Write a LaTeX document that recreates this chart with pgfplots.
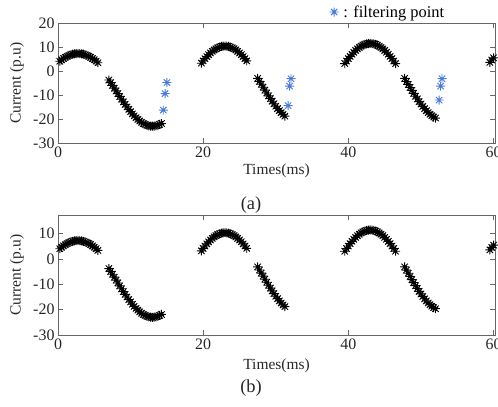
\documentclass[border=0pt]{standalone}
\usepackage{fontspec}
\setmainfont{Liberation Serif}
\usepackage{pgfplots}
\pgfplotsset{compat=1.18}
\usepackage{pgfplotstable}

\definecolor{filtblue}{HTML}{4B7BD9}
\definecolor{axgray}{HTML}{666666}

% MATLAB-like 8-spoke asterisk
\pgfdeclareplotmark{mstar}{%
  \pgfpathmoveto{\pgfqpoint{-\pgfplotmarksize}{0pt}}\pgfpathlineto{\pgfqpoint{\pgfplotmarksize}{0pt}}%
  \pgfpathmoveto{\pgfqpoint{0pt}{-\pgfplotmarksize}}\pgfpathlineto{\pgfqpoint{0pt}{\pgfplotmarksize}}%
  \pgfpathmoveto{\pgfqpoint{-.7071\pgfplotmarksize}{-.7071\pgfplotmarksize}}\pgfpathlineto{\pgfqpoint{.7071\pgfplotmarksize}{.7071\pgfplotmarksize}}%
  \pgfpathmoveto{\pgfqpoint{-.7071\pgfplotmarksize}{.7071\pgfplotmarksize}}\pgfpathlineto{\pgfqpoint{.7071\pgfplotmarksize}{-.7071\pgfplotmarksize}}%
  \pgfusepathqstroke}

% sampled current (black points)
\pgfplotstableread{
t i
0.25 4.08
0.5 4.66
0.75 5.20
1.0 5.68
1.25 6.10
1.5 6.46
1.75 6.76
2.0 7.00
2.25 7.16
2.5 7.27
2.75 7.30
3.0 7.27
3.25 7.16
3.5 7.00
3.75 6.76
4.0 6.46
4.25 6.10
4.5 5.68
4.75 5.20
5.0 4.66
5.25 4.08
5.5 3.44
7.0 -3.76
7.25 -4.87
7.5 -6.00
7.75 -7.15
8.0 -8.30
8.25 -9.45
8.5 -10.60
8.75 -11.73
9.0 -12.84
9.25 -13.93
9.5 -14.97
9.75 -15.98
10.0 -16.94
10.25 -17.85
10.5 -18.69
10.75 -19.48
11.0 -20.19
11.25 -20.83
11.5 -21.40
11.75 -21.88
12.0 -22.28
12.25 -22.59
12.5 -22.82
12.75 -22.95
13.0 -23.00
13.25 -22.95
13.5 -22.82
13.75 -22.59
14.0 -22.28
14.25 -21.88
19.75 3.24
20.0 4.22
20.25 5.14
20.5 6.01
20.75 6.81
21.0 7.54
21.25 8.19
21.5 8.77
21.75 9.26
22.0 9.67
22.25 9.99
22.5 10.22
22.75 10.35
23.0 10.40
23.25 10.35
23.5 10.22
23.75 9.99
24.0 9.67
24.25 9.26
24.5 8.77
24.75 8.19
25.0 7.54
25.25 6.81
25.5 6.01
25.75 5.14
26.0 4.22
27.5 -3.10
27.75 -4.31
28.0 -5.53
28.25 -6.75
28.5 -7.96
28.75 -9.16
29.0 -10.34
29.25 -11.49
29.5 -12.59
29.75 -13.66
30.0 -14.68
30.25 -15.64
30.5 -16.53
30.75 -17.36
31.0 -18.12
31.25 -18.80
39.5 3.09
39.75 4.15
40.0 5.15
40.25 6.10
40.5 6.99
40.75 7.81
41.0 8.56
41.25 9.23
41.5 9.82
41.75 10.33
42.0 10.75
42.25 11.07
42.5 11.31
42.75 11.45
43.0 11.50
43.25 11.45
43.5 11.31
43.75 11.07
44.0 10.75
44.25 10.33
44.5 9.82
44.75 9.23
45.0 8.56
45.25 7.81
45.5 6.99
45.75 6.10
46.0 5.15
46.25 4.15
46.5 3.09
47.75 -3.10
48.0 -4.36
48.25 -5.62
48.5 -6.87
48.75 -8.10
49.0 -9.31
49.25 -10.50
49.5 -11.64
49.75 -12.74
50.0 -13.78
50.25 -14.77
50.5 -15.70
50.75 -16.55
51.0 -17.33
51.25 -18.03
51.5 -18.64
51.75 -19.17
52.0 -19.61
59.5 3.60
59.75 4.60
60.0 5.50
}\current

% filtering points (blue)
\pgfplotstableread{
t i
14.5 -16.3
14.75 -9.4
15.0 -4.8
31.7 -14.4
31.9 -6.3
32.1 -3.2
52.5 -12.1
52.7 -6.3
52.9 -3.2
}\filtered

\pgfplotsset{
  panel/.style={
    scale only axis, width=437bp, height=120bp,
    xmin=0, xmax=60.2, ymin=-30,
    xtick={0,20,40,60},
    tick align=inside, major tick length=5bp,
    axis line style={axgray, line width=0.8bp},
    tick style={axgray, line width=0.7bp},
    /pgf/number format/assume math mode=true,
    tick label style={font=\fontsize{16}{18}\selectfont, text=black!85},
    label style={font=\fontsize{15.5}{18}\selectfont, text=black!85},
    xlabel={Times(ms)}, ylabel={Current (p.u)},
    ylabel style={at={(axis description cs:-0.0938,0.5)}, anchor=center},
    clip mode=individual,
  },
  pts/.style={only marks, mark=mstar, mark size=4.5bp, mark options={line width=0.9bp}},
}

\begin{document}
\begin{tikzpicture}
\begin{axis}[panel, ymax=20, ytick={-30,-20,...,20},
  xlabel style={at={(axis description cs:0.5,-0.23)}, anchor=center},
  legend style={at={(0.755,1)}, anchor=center, yshift=11bp, draw=none, fill=none,
    font=\fontsize{16.5}{18}\selectfont, inner sep=0pt}]
  \addplot[pts, black, forget plot] table[x=t, y=i] {\current};
  \addplot[pts, filtblue] table[x=t, y=i] {\filtered};
  \addlegendentry{\,: filtering point}
\end{axis}
\node[font=\fontsize{18.5}{20}\selectfont, text=black!85] at (193bp,-62bp) {(a)};

\begin{axis}[panel, at={(0,-192bp)}, ymax=17.4, ytick={-30,-20,...,10},
  xlabel style={at={(axis description cs:0.5,-0.26)}, anchor=center}]
  \addplot[pts, black] table[x=t, y=i] {\current};
\end{axis}
\node[font=\fontsize{18.5}{20}\selectfont, text=black!85] at (193bp,-245bp) {(b)};

\pgfresetboundingbox
\path (-58bp,-264bp) rectangle (440bp,143bp);
\end{tikzpicture}
\end{document}
